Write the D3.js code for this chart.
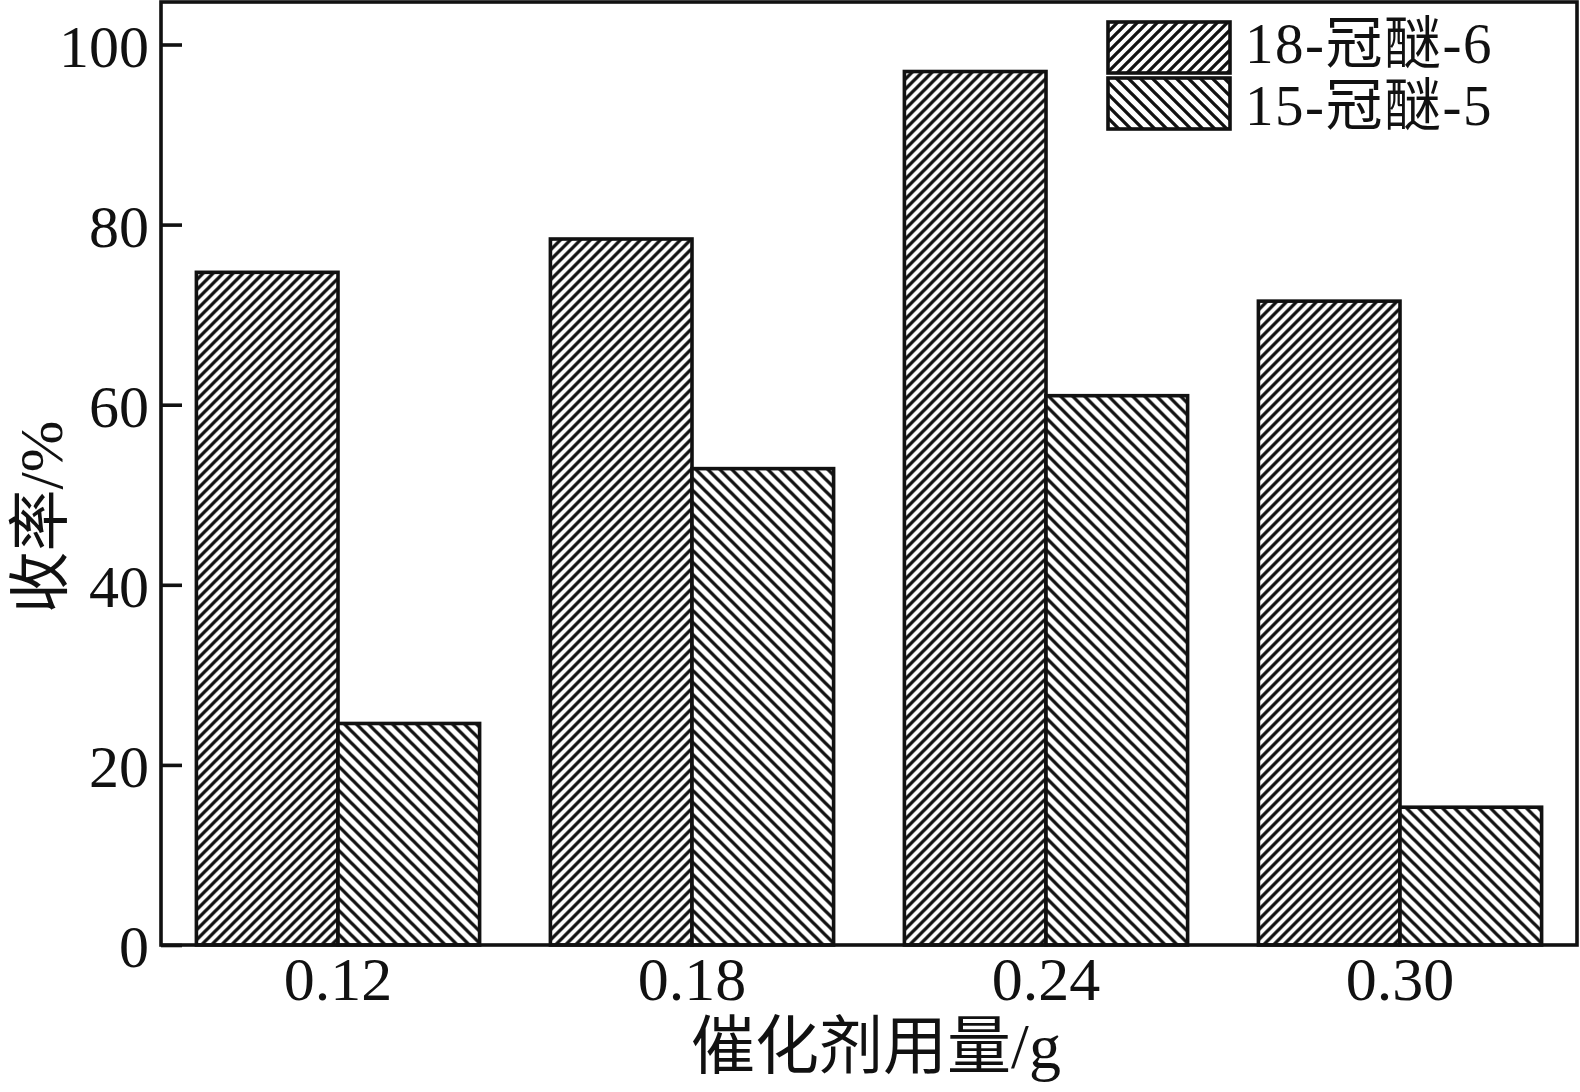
<!DOCTYPE html>
<html>
<head>
<meta charset="utf-8">
<script src="https://cdn.jsdelivr.net/npm/d3@7"></script>
<style>
	body { margin: 0; background: #fff; }
	text { font-family: "Liberation Serif", "Noto Sans CJK SC", serif; fill: #111; }
</style>
</head>
<body>
<script>
// catalyst dosage (g) and yields (%)
const categories = ['0.12', '0.18', '0.24', '0.30']
const series = ['18-冠醚-6', '15-冠醚-5']
const crown6 = [74.7, 78.4, 97.0, 71.5]
const crown5 = [24.6, 52.9, 61.0, 15.3]
const yTicks = [0, 20, 40, 60, 80, 100]

const W = 1580, H = 1092
const m = {left: 161, right: 3, top: 2, bottom: 147}

const svg = d3.select('body').append('svg')
	.attr('width', W)
	.attr('height', H)

// hatch patterns: "/" for 18-crown-6, sparser "\" for 15-crown-5
const defs = svg.append('defs')
function hatch(id, s, up) {
	const p = defs.append('pattern')
		.attr('id', id)
		.attr('patternUnits', 'userSpaceOnUse')
		.attr('width', s).attr('height', s)
	p.append('rect').attr('width', s).attr('height', s).attr('fill', '#fff')
	const d = up
		? 'M-2,2 l4,-4 M0,' + s + ' l' + s + ',-' + s + ' M' + (s-2) + ',' + (s+2) + ' l4,-4'
		: 'M-2,' + (s-2) + ' l4,4 M0,0 l' + s + ',' + s + ' M' + (s-2) + ',-2 l4,4'
	p.append('path').attr('d', d).attr('stroke', '#111').attr('stroke-width', 3.3)
}
hatch('h6', 10, true)
hatch('h5', 12, false)
const fills = ['url(#h6)', 'url(#h5)']

const x = d3.scaleBand()
	.domain(categories)
	.range([m.left, W - m.right])
	.paddingInner(0.2)
	.paddingOuter(0.1)

const xs = d3.scaleBand()
	.domain(series)
	.range([0, x.bandwidth()])

const y = d3.scaleLinear()
	.domain([0, 100])
	.range([945, 44.5])

const rows = categories.map((c, i) => ({cat: c, vals: [crown6[i], crown5[i]]}))

//bars
const g = svg.append('g')
g.selectAll('g.grp').data(rows).join('g')
	.attr('class', 'grp')
	.attr('transform', d => 'translate(' + x(d.cat) + ',0)')
	.selectAll('rect').data(d => d.vals.map((v, k) => ({s: series[k], v: v, k: k})))
	.join('rect')
	.attr('x', d => xs(d.s))
	.attr('y', d => y(d.v))
	.attr('width', xs.bandwidth())
	.attr('height', d => y(0) - y(d.v))
	.attr('fill', d => fills[d.k])
	.attr('stroke', '#111')
	.attr('stroke-width', 3.6)

// frame
svg.append('rect')
	.attr('x', m.left).attr('y', m.top)
	.attr('width', W - m.right - m.left)
	.attr('height', y(0) - m.top)
	.attr('fill', 'none')
	.attr('stroke', '#111')
	.attr('stroke-width', 3.6)

// y axis, ticks inward
const yAxis = svg.append('g')
	.attr('transform', 'translate(' + m.left + ',0)')
	.call(d3.axisRight(y).tickValues(yTicks).tickSize(21).tickFormat(d3.format('d')))
yAxis.select('.domain').remove()
yAxis.selectAll('line').attr('stroke', '#111').attr('stroke-width', 3.6)
yAxis.selectAll('text')
	.attr('x', -12)
	.attr('text-anchor', 'end')
	.attr('dy', '0.36em')
	.attr('font-size', 60)

// x axis labels
const xAxis = svg.append('g')
	.attr('transform', 'translate(0,' + y(0) + ')')
	.call(d3.axisBottom(x).tickSize(0))
xAxis.select('.domain').remove()
xAxis.selectAll('text')
	.attr('y', 55)
	.attr('dy', 0)
	.attr('font-size', 62)

// titles
svg.append('text')
	.attr('x', 876).attr('y', 1068)
	.attr('text-anchor', 'middle')
	.attr('font-size', 64)
	.text('催化剂用量/g')

svg.append('text')
	.attr('transform', 'translate(62,517) rotate(-90)')
	.attr('text-anchor', 'middle')
	.attr('font-size', 62)
	.text('收率/%')

// legend
const leg = svg.append('g').attr('transform', 'translate(1108,22)')
leg.selectAll('rect').data(series).join('rect')
	.attr('x', 0)
	.attr('y', (d, i) => i * 56)
	.attr('width', 122)
	.attr('height', 51)
	.attr('fill', (d, i) => fills[i])
	.attr('stroke', '#111')
	.attr('stroke-width', 3.6)
leg.selectAll('text').data(series).join('text')
	.attr('x', 137)
	.attr('y', (d, i) => 41 + i * 62)
	.attr('font-size', 57)
	.attr('letter-spacing', 1.5)
	.text(d => d)
</script>
</body>
</html>
